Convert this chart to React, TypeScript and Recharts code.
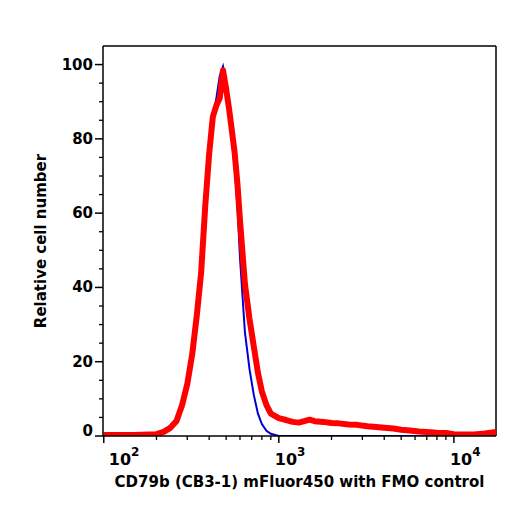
import React from "react";
import { LineChart, Line, XAxis, YAxis, ReferenceLine, Label } from "recharts";

// fluorescence intensity (log axis)
const intensity = [
  100, 150, 180, 200, 220, 240, 260, 280, 300, 320, 340, 360, 380, 400, 420, 440, 460, 480, 500, 520,
  540, 560, 580, 600, 640, 680, 720, 760, 800, 850, 900, 1000, 1100, 1200, 1300, 1400, 1500, 1600, 1800,
  2000, 2200, 2500, 2800, 3200, 3600, 4000, 4500, 5000, 5600, 6300, 7000, 8000, 9000, 10000, 11500,
  13000, 15000, 17400,
];

// CD79b stained (red)
const stained = [
  0.3, 0.3, 0.4, 0.5, 1.1, 2.2, 4.0, 8.3, 14, 22, 32.5, 44, 62, 76, 86, 89, 91, 98.5, 93.5, 88,
  82, 76, 68, 58, 41, 31.5, 24, 17, 12, 8.3, 6.0, 4.8, 4.3, 3.8, 3.6, 4.0, 4.4, 4.0, 3.8,
  3.5, 3.4, 3.1, 3.0, 2.6, 2.4, 2.2, 2.0, 1.7, 1.5, 1.2, 1.1, 0.9, 0.8, 0.5, 0.4,
  0.4, 0.7, 1.1,
];

// FMO control (blue)
const fmo = [
  0.2, 0.2, 0.2, 0.3, 1.0, 2.3, 4.5, 8.8, 15, 24, 35, 47, 64, 77, 86, 91, 97, 99.5, 95, 88,
  80, 72, 62, 48, 28, 18, 11, 6, 3.2, 1.4, 0.6, 0, 0, 0, 0, 0, 0, 0, 0,
  0, 0, 0, 0, 0, 0, 0, 0, 0, 0, 0, 0, 0, 0, 0, 0,
  0, 0, 0,
];

const xTicks = [
  100, 200, 300, 400, 500, 600, 700, 800, 900, 1000, 2000, 3000, 4000, 5000, 6000, 7000, 8000, 9000, 10000,
];
const xMajor = [100, 1000, 10000];
const yTicks = [0, 5, 10, 15, 20, 25, 30, 35, 40, 45, 50, 55, 60, 65, 70, 75, 80, 85, 90, 95, 100];
const yMajor = [0, 20, 40, 60, 80, 100];

const data = intensity.map((x, i) => ({ x, stained: stained[i], fmo: fmo[i] }));

const FONT = "'DejaVu Sans', 'Liberation Sans', Arial, sans-serif";

const XTick = (props: any) => {
  const { x, y, payload } = props;
  const major = xMajor.includes(payload.value);
  if (!major) {
    return <line x1={x} x2={x} y1={y} y2={y + 4} stroke="#000" strokeWidth={1.3} />;
  }
  const exp = Math.round(Math.log10(payload.value));
  const dx = exp === 2 ? 5 : -4;
  return (
    <g>
      <line x1={x} x2={x} y1={y} y2={y + 7} stroke="#000" strokeWidth={1.5} />
      <text x={x + dx} y={y + 29} fontFamily={FONT} fontWeight="bold" fontSize={16} fill="#000">
        <tspan>10</tspan>
        <tspan dy={-9} fontSize={12}>
          {exp}
        </tspan>
      </text>
    </g>
  );
};

const YTick = (props: any) => {
  const { x, y, payload } = props;
  const major = yMajor.includes(payload.value);
  if (!major) {
    return <line x1={x - 4} x2={x} y1={y} y2={y} stroke="#000" strokeWidth={1.3} />;
  }
  // the zero label sits a little above its tick in the original
  const lift = payload.value === 0 ? -5 : 0;
  return (
    <g>
      <line x1={x - 8} x2={x} y1={y} y2={y} stroke="#000" strokeWidth={1.5} />
      <text
        x={x - 10}
        y={y + 5 + lift}
        textAnchor="end"
        fontFamily={FONT}
        fontWeight="bold"
        fontSize={15}
        fill="#000"
      >
        {payload.value}
      </text>
    </g>
  );
};

export default function App() {
  return (
    <div style={{ position: "absolute", left: 0, top: 0, background: "#fff" }}>
      <LineChart width={516} height={508} data={data} margin={{ top: 46, right: 20, bottom: 0, left: 0 }}>
        <XAxis
          dataKey="x"
          type="number"
          scale="log"
          domain={[99, 17400]}
          allowDataOverflow
          ticks={xTicks}
          interval={0}
          height={72}
          tickSize={0}
          tickMargin={0}
          tickLine={false}
          axisLine={{ stroke: "#000", strokeWidth: 1.5 }}
          tick={<XTick />}
        >
          <Label
            value="CD79b (CB3-1) mFluor450 with FMO control"
            position="center"
            dy={10}
            style={{ fontFamily: FONT, fontWeight: "bold", fontSize: 15, fill: "#000" }}
          />
        </XAxis>
        <YAxis
          type="number"
          domain={[0, 105]}
          allowDataOverflow
          ticks={yTicks}
          interval={0}
          width={103}
          tickSize={0}
          tickMargin={0}
          tickLine={false}
          axisLine={{ stroke: "#000", strokeWidth: 1.5 }}
          tick={<YTick />}
        >
          <Label
            value="Relative cell number"
            angle={-90}
            position="center"
            dx={-11}
            style={{ fontFamily: FONT, fontWeight: "bold", fontSize: 15, fill: "#000", textAnchor: "middle" }}
          />
        </YAxis>
        <ReferenceLine y={105} stroke="#000" strokeWidth={1.5} />
        <ReferenceLine x={17400} stroke="#000" strokeWidth={1.5} />
        <Line
          dataKey="fmo"
          type="linear"
          stroke="#0000d0"
          strokeWidth={2}
          dot={false}
          isAnimationActive={false}
        />
        <Line
          dataKey="stained"
          type="linear"
          stroke="#ff0000"
          strokeWidth={6}
          strokeLinejoin="round"
          dot={false}
          isAnimationActive={false}
        />
      </LineChart>
    </div>
  );
}
